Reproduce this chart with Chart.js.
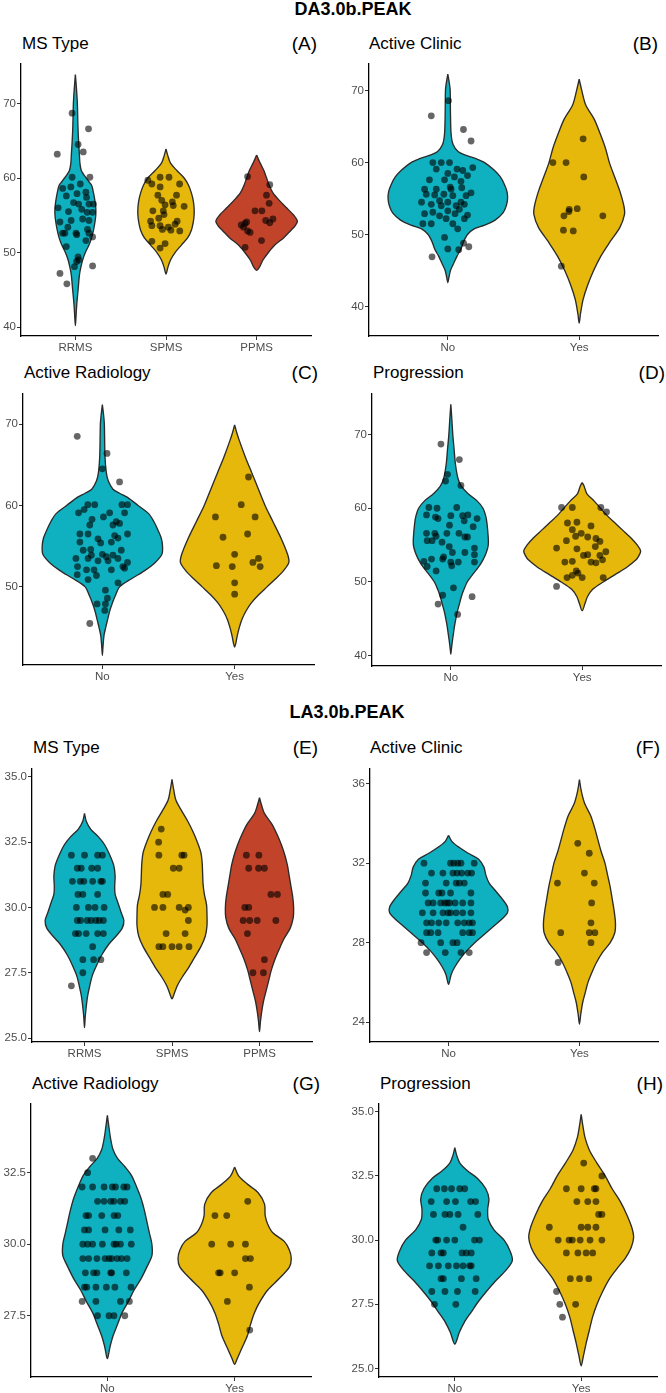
<!DOCTYPE html>
<html>
<head>
<meta charset="utf-8">
<script src="https://cdn.jsdelivr.net/npm/chart.js@4.4.0/dist/chart.umd.min.js"></script>
<style>
  body { margin:0; background:#fff; width:666px; height:1393px; position:relative; overflow:hidden;
         font-family:"Liberation Sans", Arial, sans-serif; color:#000; }
  .sec { position:absolute; font-weight:bold; font-size:18px; line-height:1; transform:translate(-50%,-50%); white-space:nowrap; }
  .ttl { position:absolute; font-size:17px; line-height:1; transform:translateY(-50%); white-space:nowrap; }
  .tag { position:absolute; font-size:19px; line-height:1; transform:translate(-100%,-50%); white-space:nowrap; }
  canvas { position:absolute; }
</style>
</head>
<body>
<script>
/* ---------- categories & ticks ---------- */
const catsMS = ["RRMS", "SPMS", "PPMS"];
const catsYN = ["No", "Yes"];
const ticksA = [40, 50, 60, 70];
const ticksB = [40, 50, 60, 70];
const ticksC = [50, 60, 70];
const ticksD = [40, 50, 60, 70];
const ticksE = [25, 27.5, 30, 32.5, 35];
const ticksF = [24, 28, 32, 36];
const ticksG = [27.5, 30, 32.5];
const ticksH = [25, 27.5, 30, 32.5, 35];

/* ---------- violin outlines: [value, half width] top -> bottom ---------- */
const vioA_RRMS = [[73.9,0],[72,0.012],[70,0.022],[67,0.028],[65,0.035],[63,0.045],[62,0.05],[61,0.065],[60.5,0.09],[60,0.12],[59.5,0.15],[59,0.18],[58,0.2],[57,0.215],[56,0.225],[55,0.225],[54,0.215],[53,0.2],[52,0.18],[51,0.15],[50,0.11],[49,0.08],[48,0.06],[47,0.045],[45,0.03],[43,0.015],[41,0.005],[40.2,0]];
const vioA_SPMS = [[63.9,0],[63,0.02],[62,0.05],[61,0.12],[60,0.2],[59,0.25],[58,0.28],[57,0.3],[56,0.31],[55,0.31],[54,0.3],[53,0.28],[52,0.24],[51,0.17],[50,0.1],[49,0.05],[48,0.02],[47.1,0]];
const vioA_PPMS = [[63.1,0],[62.5,0.02],[62,0.04],[61,0.08],[60,0.11],[59,0.14],[58,0.18],[57,0.25],[56,0.33],[55,0.41],[54.2,0.45],[53.5,0.42],[53,0.38],[52,0.3],[51,0.2],[50,0.13],[49,0.07],[48,0.03],[47.6,0]];

const vioB_No  = [[72.3,0],[71,0.012],[70,0.018],[67,0.02],[64,0.025],[62.5,0.04],[61.5,0.08],[61,0.14],[60.5,0.22],[60,0.28],[59,0.35],[58,0.4],[57,0.43],[56,0.45],[55,0.455],[54,0.445],[53,0.42],[52,0.36],[51.3,0.28],[50.8,0.2],[50,0.15],[49,0.12],[48,0.1],[47,0.07],[46,0.045],[45,0.02],[44,0.008],[43.3,0]];
const vioB_Yes = [[71.6,0],[70,0.02],[68,0.05],[66,0.115],[64,0.16],[62,0.2],[60,0.23],[58,0.27],[56,0.31],[54,0.34],[52.8,0.345],[51,0.31],[49,0.235],[47,0.165],[45,0.11],[43,0.065],[41,0.03],[39,0.01],[37.7,0]];

const vioC_No  = [[72.4,0],[71,0.01],[70,0.015],[66,0.02],[64,0.03],[63,0.045],[62,0.08],[61.5,0.13],[61,0.19],[60,0.27],[59,0.35],[58,0.39],[57,0.42],[56,0.445],[55,0.455],[54,0.45],[53,0.4],[52,0.32],[51,0.22],[50,0.13],[49,0.1],[48,0.075],[47,0.055],[46,0.04],[45,0.025],[44,0.012],[42.5,0.004],[41.6,0]];
const vioC_Yes = [[69.9,0],[69,0.015],[68,0.035],[66,0.08],[64,0.13],[62,0.18],[60,0.23],[58,0.29],[56,0.35],[54,0.4],[53,0.41],[52,0.37],[51,0.31],[50,0.245],[49,0.18],[48,0.125],[47,0.085],[46,0.055],[45,0.035],[44,0.02],[43,0.008],[42.6,0]];

const vioD_No  = [[74.1,0],[72,0.008],[70,0.015],[68,0.025],[66,0.035],[64,0.055],[63,0.08],[62,0.13],[61,0.2],[60,0.245],[59,0.265],[58,0.275],[56,0.285],[55,0.285],[54,0.27],[53,0.245],[52,0.21],[51,0.165],[50,0.125],[49,0.1],[48,0.08],[47,0.065],[46,0.05],[45,0.038],[44,0.028],[43,0.02],[42,0.012],[41,0.005],[40.2,0]];
const vioD_Yes = [[63.5,0],[63,0.015],[62,0.035],[61,0.09],[60,0.14],[59,0.19],[58,0.25],[57,0.31],[56,0.37],[55,0.42],[54.2,0.445],[53.5,0.43],[53,0.41],[52,0.34],[51,0.25],[50,0.16],[49,0.08],[48,0.04],[47,0.02],[46.1,0]];

const vioE_RRMS = [[33.6,0],[33.3,0.02],[33.0,0.07],[32.7,0.16],[32.4,0.23],[32.0,0.29],[31.6,0.335],[31.2,0.35],[30.8,0.345],[30.5,0.35],[30.2,0.38],[29.8,0.42],[29.5,0.45],[29.2,0.43],[28.9,0.36],[28.6,0.28],[28.2,0.2],[27.8,0.14],[27.4,0.09],[27.0,0.06],[26.6,0.035],[26.2,0.02],[25.8,0.008],[25.4,0]];
const vioE_SPMS = [[34.9,0],[34.5,0.02],[34.1,0.045],[33.7,0.11],[33.3,0.18],[32.9,0.24],[32.5,0.29],[32.1,0.33],[31.7,0.345],[31.3,0.35],[30.9,0.355],[30.5,0.37],[30.1,0.395],[29.7,0.4],[29.3,0.4],[28.9,0.38],[28.5,0.33],[28.1,0.26],[27.7,0.19],[27.3,0.11],[27.0,0.06],[26.7,0.025],[26.5,0]];
const vioE_PPMS = [[34.2,0],[33.9,0.025],[33.6,0.056],[33.2,0.14],[32.8,0.2],[32.4,0.25],[32.0,0.29],[31.6,0.32],[31.2,0.34],[30.8,0.36],[30.4,0.38],[30.0,0.39],[29.6,0.385],[29.2,0.35],[28.8,0.28],[28.4,0.225],[28.0,0.175],[27.6,0.135],[27.2,0.105],[26.8,0.075],[26.4,0.045],[26.0,0.025],[25.6,0.01],[25.25,0]];

const vioF_No  = [[33.4,0],[33.1,0.025],[32.8,0.08],[32.5,0.15],[32.2,0.23],[31.8,0.27],[31.4,0.285],[31.0,0.31],[30.6,0.36],[30.2,0.41],[29.8,0.45],[29.5,0.45],[29.2,0.41],[28.8,0.34],[28.4,0.27],[28.0,0.2],[27.6,0.14],[27.2,0.09],[26.8,0.05],[26.4,0.02],[25.9,0]];
const vioF_Yes = [[36.2,0],[35.6,0.015],[35.0,0.04],[34.4,0.085],[33.8,0.115],[33.2,0.14],[32.6,0.165],[32.0,0.195],[31.4,0.215],[30.8,0.235],[30.2,0.25],[29.6,0.265],[29.0,0.275],[28.5,0.27],[28.0,0.235],[27.5,0.175],[27.0,0.13],[26.5,0.095],[26.0,0.065],[25.5,0.045],[25.0,0.025],[24.4,0.01],[23.9,0]];

const vioG_No  = [[34.5,0],[34.1,0.012],[33.7,0.025],[33.3,0.045],[33.0,0.08],[32.7,0.14],[32.4,0.19],[32.0,0.23],[31.6,0.265],[31.2,0.29],[30.8,0.31],[30.4,0.33],[30.0,0.35],[29.6,0.35],[29.2,0.31],[28.8,0.265],[28.4,0.21],[28.0,0.165],[27.6,0.115],[27.2,0.08],[26.8,0.045],[26.4,0.02],[26.0,0]];
const vioG_Yes = [[32.7,0],[32.4,0.03],[32.1,0.1],[31.8,0.185],[31.4,0.235],[31.0,0.24],[30.7,0.26],[30.4,0.3],[30.1,0.39],[29.8,0.43],[29.5,0.445],[29.2,0.43],[28.8,0.35],[28.4,0.26],[28.0,0.2],[27.6,0.155],[27.2,0.125],[26.8,0.1],[26.4,0.06],[26.0,0.02],[25.8,0]];

const vioH_No  = [[33.6,0],[33.3,0.015],[33.0,0.04],[32.7,0.1],[32.4,0.18],[32.0,0.245],[31.6,0.27],[31.2,0.26],[30.8,0.265],[30.4,0.31],[30.0,0.39],[29.6,0.435],[29.2,0.455],[28.8,0.4],[28.4,0.32],[28.0,0.25],[27.6,0.185],[27.2,0.13],[26.8,0.075],[26.4,0.035],[25.95,0]];
const vioH_Yes = [[34.9,0],[34.4,0.015],[34.0,0.03],[33.5,0.065],[33.0,0.125],[32.5,0.19],[32.0,0.245],[31.5,0.31],[31.0,0.36],[30.5,0.4],[30.1,0.415],[29.7,0.395],[29.3,0.35],[28.9,0.285],[28.5,0.225],[28.0,0.17],[27.5,0.125],[27.0,0.09],[26.5,0.065],[26.0,0.04],[25.5,0.018],[25.1,0]];

/* ---------- jittered observations: [jitter, value] ---------- */
const ptsA_RRMS = [[-0.036,68.7],[0.145,66.6],[-0.2,63.2],[0.03,64.5],[0.087,63.5],[-0.036,60.1],[0.16,60.1],[0.054,59.2],[-0.14,58.6],[-0.05,58.8],[0.018,57.9],[-0.1,57.6],[0.116,58.1],[0.123,57.4],[-0.19,56.0],[-0.076,55.5],[-0.02,56.7],[0.036,56.5],[0.15,56.5],[0.2,56.5],[0.19,55.4],[0.13,55.4],[0.07,55.8],[-0.17,54.1],[-0.047,54.3],[0.08,54.5],[0.15,54.3],[-0.083,53.4],[0.134,53.1],[-0.14,52.6],[-0.116,52.6],[0.007,52.6],[0.015,52.4],[0.15,52.6],[0.19,52.1],[0.116,51.6],[-0.1,50.8],[0.03,49.4],[0.014,48.8],[-0.01,48.1],[0.036,49.0],[0.19,48.2],[-0.17,47.2],[-0.094,45.8]];
const ptsA_SPMS = [[-0.2,59.7],[-0.065,60.1],[0.033,60.1],[0.15,59.2],[-0.156,59.2],[-0.065,58.8],[-0.09,57.7],[-0.047,57.0],[0.116,57.7],[-0.01,56.4],[0.07,56.8],[0.08,56.3],[0.2,56.2],[-0.145,55.6],[-0.03,55.6],[-0.022,55.1],[-0.17,54.2],[-0.08,54.6],[0.123,54.2],[0.1,53.8],[-0.156,53.6],[-0.065,53.6],[-0.04,53.1],[0.054,53.0],[0.152,52.9],[0.025,53.4],[-0.156,51.5],[-0.01,51.2],[-0.065,50.6]];
const ptsA_PPMS = [[-0.1,60.2],[0.145,59.1],[0.109,57.7],[0.138,56.6],[-0.018,55.6],[0.058,55.6],[0.18,54.5],[0.1,54.3],[0.145,54.0],[-0.127,53.9],[-0.11,54.1],[-0.17,53.7],[-0.145,53.4],[-0.1,52.9],[-0.072,52.7],[0.054,51.6],[-0.127,50.7]];

const ptsB_No  = [[0.005,68.6],[-0.126,66.5],[0.119,64.6],[0.177,63.0],[-0.114,60.0],[-0.05,60.0],[0.013,60.0],[0.19,59.3],[-0.088,59.1],[0,58.5],[0.07,59.1],[0.114,58.9],[0.15,58.2],[-0.14,57.6],[-0.025,57.6],[0.05,58.0],[0.1,57.4],[-0.177,56.3],[-0.088,56.3],[0.018,56.6],[0.106,56.5],[0.177,55.8],[-0.164,55.6],[-0.1,55.5],[-0.03,55.6],[0.038,55.4],[0.139,55.4],[-0.2,54.5],[-0.126,54.2],[-0.05,54.0],[0,54.5],[0.063,54.0],[0.088,53.5],[0.126,54.2],[-0.177,52.9],[-0.114,53.1],[-0.063,52.6],[0,53.3],[0.055,52.9],[0.15,52.7],[0.126,52.2],[-0.19,51.5],[-0.126,51.5],[0.038,51.5],[0.075,50.8],[-0.025,49.6],[0,48.0],[0.083,47.9],[0.12,48.8],[0.16,48.3],[-0.12,46.9],[0.025,56.3],[-0.063,54.7],[-0.013,52.2],[0.1,54.5]];
const ptsB_Yes = [[-0.2,60.0],[-0.1,60.0],[0.03,63.3],[0.035,58.0],[-0.076,53.5],[-0.015,53.6],[-0.116,52.6],[0.18,52.6],[-0.12,50.6],[-0.045,50.5],[-0.078,53.2],[-0.136,45.6]];

const ptsC_No  = [[-0.19,68.5],[0.035,66.4],[0,64.5],[0.13,62.9],[-0.18,59.1],[-0.11,60.1],[-0.058,60.1],[-0.138,59.5],[-0.078,58.3],[0.008,58.6],[0.055,59.1],[0.148,60.1],[0.19,60.1],[0.168,59.1],[0.105,58.0],[0.08,57.6],[0.13,57.8],[-0.095,57.6],[-0.17,56.5],[-0.108,56.5],[-0.033,55.9],[-0.17,55.5],[-0.013,55.4],[0.068,55.5],[0.118,56.0],[0.19,56.5],[-0.145,54.5],[-0.088,54.6],[0,54.0],[0.03,53.7],[0.08,53.9],[0.143,54.5],[-0.2,53.5],[-0.108,53.5],[-0.033,53.2],[0.043,53.2],[0.118,53.5],[0.19,53.0],[0.155,52.5],[-0.188,52.5],[-0.12,52.1],[-0.063,52.1],[0.068,52.1],[0.168,52.3],[-0.19,51.5],[-0.045,51.4],[-0.108,50.9],[0.118,50.5],[0.023,49.6],[0.038,48.6],[-0.04,47.9],[0.023,47.9],[0.018,47.1],[-0.095,45.5],[0.093,56.3],[-0.083,53.9]];
const ptsC_Yes = [[0.105,63.5],[0.05,60.1],[-0.145,58.6],[0.155,58.6],[-0.088,56.1],[0.098,56.5],[0,54.0],[-0.138,52.6],[-0.018,52.5],[0.138,53.0],[0.18,53.5],[0.193,52.5],[0,50.5],[0,49.1]];

const ptsD_No  = [[-0.075,68.7],[0.065,66.6],[-0.025,64.6],[-0.04,63.7],[0.077,63.1],[-0.167,60.1],[-0.105,60.0],[0.045,60.1],[-0.185,59.1],[-0.117,58.8],[0,59.0],[0.09,59.0],[0.13,59.1],[0.2,58.6],[-0.097,58.6],[0.102,58.3],[-0.01,57.7],[0.17,57.5],[-0.185,56.6],[-0.122,56.6],[-0.112,56.2],[-0.03,56.6],[0.062,56.6],[0.107,56.1],[0.127,56.1],[-0.18,55.6],[-0.142,55.6],[-0.067,55.4],[-0.012,54.8],[0.18,54.6],[0.107,54.0],[0.012,54.0],[0.18,53.7],[-0.055,53.4],[-0.205,52.8],[-0.147,53.1],[-0.062,53.1],[0,52.7],[0.007,52.2],[0.057,52.7],[0.18,52.7],[-0.18,52.1],[-0.112,51.5],[0.02,49.2],[-0.062,48.2],[0.162,48.0],[-0.097,47.0],[0.052,45.6]];
const ptsD_Yes = [[-0.157,60.1],[-0.075,60.1],[0.142,60.1],[0.185,59.5],[-0.112,58.0],[-0.04,58.1],[-0.075,57.1],[0.067,57.6],[-0.007,56.6],[-0.05,56.2],[-0.12,55.6],[0.042,56.1],[0.105,55.9],[0.135,55.5],[-0.195,54.6],[-0.04,54.5],[0.1,54.8],[0.042,53.7],[0.01,53.6],[0.135,53.6],[0.18,54.1],[0.155,53.0],[-0.132,52.7],[-0.075,52.8],[0.067,52.7],[0.105,52.6],[-0.045,51.5],[-0.032,51.2],[-0.115,50.6],[-0.075,50.9],[0,50.6],[0.16,50.6],[-0.195,49.4]];

const ptsE_RRMS = [[-0.15,32],[0,32],[0.15,32],[0.205,32],[-0.082,31.5],[-0.037,31.5],[0.082,31.5],[0.15,31.5],[-0.138,31],[-0.049,31],[-0.007,31],[0.093,31],[0.187,31],[0.205,31],[-0.075,30.5],[-0.019,30.5],[0.15,30.5],[-0.093,30],[0.045,30],[0.12,30],[0.224,30],[-0.082,29.5],[-0.045,29.5],[0.03,29.5],[0.075,29.5],[0.13,29.5],[0.168,29.5],[0.216,29.5],[-0.104,29],[-0.067,29],[0.019,29],[0.15,29],[0.216,29],[0.093,28.5],[-0.019,28],[0.104,28],[0.187,28],[-0.019,27.5],[-0.15,27]];
const ptsE_SPMS = [[-0.123,33],[-0.153,32.5],[-0.15,32],[0.112,32],[0.138,32],[0.015,31.5],[0.082,31.5],[-0.104,30.5],[-0.049,30.5],[-0.2,30],[-0.104,30],[0.082,30],[0.187,30],[0.15,29.9],[0.187,29.5],[-0.067,29],[0.15,29],[-0.15,28.5],[-0.104,28.5],[0,28.5],[0.082,28.5],[0.194,28.5]];
const ptsE_PPMS = [[-0.15,32],[-0.007,32],[-0.123,31.5],[-0.011,31.5],[0.056,31.5],[0.13,30.5],[0.205,30.5],[-0.168,30],[-0.123,30],[-0.187,29.5],[-0.112,29.5],[-0.026,29.5],[0.187,29.5],[-0.138,29],[0.056,28],[-0.075,27.5],[0.045,27.5]];

const ptsF_No  = [[-0.188,32],[0.015,32],[0.04,32],[0.07,32],[0.095,32],[0.196,32],[-0.13,31.5],[-0.043,31.5],[0.033,31.5],[0.065,31.5],[0.1,31.5],[0.146,31.5],[0.176,31.5],[-0.176,31],[-0.018,31],[0.058,31],[0.083,31],[0.12,31],[-0.176,30.5],[-0.075,30.5],[-0.05,30.5],[0.015,30.5],[0.171,30.5],[-0.156,30],[-0.118,30],[-0.06,30],[-0.03,30],[-0.01,30],[0.008,30],[0.05,30],[0.108,30],[0.171,30],[-0.2,29.5],[-0.118,29.5],[-0.043,29.5],[-0.005,29.5],[0.015,29.5],[0.058,29.5],[0.108,29.5],[0.171,29.5],[-0.168,29],[-0.13,29],[-0.075,29],[-0.018,29],[0.07,29],[0.12,29],[0.158,29],[0.183,29],[-0.168,28.5],[-0.136,28.5],[-0.08,28.5],[0.108,28.5],[0.158,28.5],[0.183,28.5],[-0.21,28],[-0.06,28],[0.033,28],[0.065,28],[-0.168,27.5],[-0.025,27.5],[0.095,27.5],[0.158,27.5]];
const ptsF_Yes = [[-0.013,33],[0.075,32.5],[0.038,31.5],[-0.168,31],[0.113,31],[0.093,30],[0.088,29],[-0.143,28.5],[0.075,28.5],[0.118,28.5],[0.088,28],[-0.163,27]];

const ptsG_No  = [[-0.116,33],[-0.155,32.5],[-0.198,32],[-0.116,32],[-0.026,32],[0.039,32],[0.064,32],[0.129,32],[0.155,32],[-0.077,31.5],[-0.026,31.5],[0.026,31.5],[0.052,31.5],[0.103,31.5],[0.137,31.5],[-0.168,31],[-0.147,31],[-0.044,31],[0.052,31],[0.082,31],[-0.18,30.5],[-0.147,30.5],[-0.018,30.5],[0.09,30.5],[0.18,30.5],[-0.193,30],[-0.155,30],[-0.116,30],[-0.039,30],[0.052,30],[0.07,30],[0.103,30],[0.188,30],[-0.193,29.5],[-0.147,29.5],[-0.082,29.5],[-0.018,29.5],[0.013,29.5],[0.034,29.5],[0.077,29.5],[0.111,29.5],[0.155,29.5],[-0.173,29],[-0.108,29],[-0.082,29],[0.026,29],[0.034,29],[0.149,29],[-0.18,28.5],[-0.162,28.5],[-0.09,28.5],[-0.008,28.5],[0.059,28.5],[0.186,28.5],[-0.198,28],[-0.09,28],[0.103,28],[0.173,28],[-0.077,27.5],[0.013,27.5],[0.052,27.5],[0.137,27.5]];
const ptsG_Yes = [[0.103,31.5],[-0.155,31],[-0.062,31],[-0.18,30],[-0.031,30],[0.085,30],[0.085,29.5],[0.124,29.5],[-0.126,29],[-0.113,29],[0,29],[0.116,28.5],[-0.057,28],[0.119,27]];

const ptsH_No  = [[-0.143,32],[-0.083,32],[-0.026,32],[0.039,32],[0.078,32],[-0.187,31.5],[-0.065,31.5],[0.005,31.5],[0.125,31.5],[0.164,31.5],[-0.169,31],[-0.078,31],[-0.039,31],[0.026,31],[0.182,31],[0.065,30.5],[-0.151,30],[-0.135,30],[-0.065,30],[0,30],[0.156,30],[0.195,30],[-0.182,29.5],[-0.109,29.5],[-0.091,29.5],[0.057,29.5],[0.091,29.5],[0.13,29.5],[-0.2,29],[-0.13,29],[-0.052,29],[0.013,29],[0.065,29],[0.117,29],[0.13,29],[-0.109,28.5],[-0.091,28.5],[0.052,28.5],[0.169,28.5],[-0.182,28],[-0.078,28],[0.021,28],[0.161,28],[-0.161,27.5],[0.008,27.5]];
const ptsH_Yes = [[0.02,33],[0.164,32.5],[-0.117,32],[0,32],[0.104,32],[0.117,32],[-0.034,31.5],[0.052,31.5],[0.117,31.5],[0.164,31],[0.138,31],[-0.252,30.5],[0,30.5],[0.052,30.5],[0.117,30.5],[-0.182,30],[-0.096,30],[-0.07,30],[-0.008,30],[0.07,30],[0.164,30],[-0.117,29.5],[-0.026,29.5],[0.039,29.5],[0.091,29.5],[-0.086,28.5],[-0.013,28.5],[0.06,28.5],[-0.195,28],[-0.169,27.5],[-0.044,27.5],[-0.148,27]];

/* ---------- look ---------- */
const TEAL = "#0FB1C0", GOLD = "#E5B80B", BRICK = "#C0432A";
const TICK_FONT = { family: "'Liberation Sans', Arial, sans-serif", size: 11.5 };

function addText(cls, txt, x, y) {
  const d = document.createElement("div");
  d.className = cls; d.textContent = txt;
  d.style.left = x + "px"; d.style.top = y + "px";
  document.body.appendChild(d);
}

// closed outline: right side top->bottom, then left side back up
function violinPath(c, prof) {
  const right = prof.map(([v, w]) => ({ x: c + w, y: v }));
  const left = prof.slice(1, -1).reverse().map(([v, w]) => ({ x: c - w, y: v }));
  return right.concat(left, [right[0]]);
}

function makePanel(p) {
  addText("ttl", p.title, p.tx, p.ty);
  addText("tag", p.tag, p.gx, p.ty);

  const AX_W = 30, AX_H = 22;
  const cv = document.createElement("canvas");
  cv.width = p.R - p.L + AX_W; cv.height = p.B - p.T + AX_H;
  cv.style.left = (p.L - AX_W) + "px"; cv.style.top = p.T + "px";
  document.body.appendChild(cv);

  const datasets = [];
  p.violins.forEach((prof, i) => {
    datasets.push({
      data: violinPath(i, prof), order: 2,
      borderColor: "#2b2b2b", borderWidth: 1.35, backgroundColor: p.colors[i],
      fill: "shape", tension: 0.3, pointRadius: 0
    });
  });
  p.points.forEach((pts, i) => {
    datasets.push({
      data: pts.map(([j, v]) => ({ x: i + j, y: v })), order: 1,
      showLine: false, pointRadius: 3.4, pointBorderWidth: 0,
      pointBackgroundColor: "rgba(0,0,0,0.6)"
    });
  });

  new Chart(cv, {
    type: "line",
    data: { datasets },
    options: {
      responsive: false, animation: false, events: [],
      layout: { padding: 0 },
      plugins: { legend: { display: false }, tooltip: { enabled: false } },
      scales: {
        x: {
          type: "linear", min: -0.6, max: p.cats.length - 0.4,
          afterBuildTicks: s => { s.ticks = p.cats.map((c, i) => ({ value: i })); },
          afterFit: s => { s.height = AX_H; s.paddingLeft = 0; s.paddingRight = 0; },
          ticks: { callback: v => p.cats[v], color: "#4D4D4D", font: TICK_FONT, padding: 1, maxRotation: 0, autoSkip: false },
          grid: { display: true, drawOnChartArea: false, drawTicks: true, tickLength: 4, color: "#333333" },
          border: { display: true, color: "#000000", width: 1.3 }
        },
        y: {
          type: "linear", min: p.yMin, max: p.yMax,
          afterBuildTicks: s => { s.ticks = p.yTicks.map(v => ({ value: v })); },
          afterFit: s => { s.width = AX_W; s.paddingTop = 0; s.paddingBottom = 0; },
          ticks: { callback: v => v.toFixed(p.dec), color: "#4D4D4D", font: TICK_FONT, padding: 1 },
          grid: { display: true, drawOnChartArea: false, drawTicks: true, tickLength: 4, color: "#333333" },
          border: { display: true, color: "#000000", width: 1.3 }
        }
      }
    }
  });
}

addText("sec", "DA3.0b.PEAK", 353, 9);
addText("sec", "LA3.0b.PEAK", 347, 712);

const panels = [
  { title: "MS Type", tag: "(A)", tx: 22, gx: 317, ty: 43, L: 21, T: 60, B: 336, R: 315, cats: catsMS, yMin: 38.8, yMax: 75.3, yTicks: ticksA, dec: 0,
    violins: [vioA_RRMS, vioA_SPMS, vioA_PPMS], points: [ptsA_RRMS, ptsA_SPMS, ptsA_PPMS], colors: [TEAL, GOLD, BRICK] },
  { title: "Active Clinic", tag: "(B)", tx: 369, gx: 658, ty: 43, L: 369, T: 60, B: 336, R: 662, cats: catsYN, yMin: 35.9, yMax: 73.7, yTicks: ticksB, dec: 0,
    violins: [vioB_No, vioB_Yes], points: [ptsB_No, ptsB_Yes], colors: [TEAL, GOLD] },
  { title: "Active Radiology", tag: "(C)", tx: 24, gx: 318, ty: 372, L: 23, T: 390, B: 665, R: 318, cats: catsYN, yMin: 40.4, yMax: 73.7, yTicks: ticksC, dec: 0,
    violins: [vioC_No, vioC_Yes], points: [ptsC_No, ptsC_Yes], colors: [TEAL, GOLD] },
  { title: "Progression", tag: "(D)", tx: 373, gx: 665, ty: 372, L: 372, T: 390, B: 666, R: 665, cats: catsYN, yMin: 38.6, yMax: 75.5, yTicks: ticksD, dec: 0,
    violins: [vioD_No, vioD_Yes], points: [ptsD_No, ptsD_Yes], colors: [TEAL, GOLD] },
  { title: "MS Type", tag: "(E)", tx: 33, gx: 318, ty: 747, L: 32, T: 765, B: 1042, R: 316, cats: catsMS, yMin: 24.85, yMax: 35.3, yTicks: ticksE, dec: 1,
    violins: [vioE_RRMS, vioE_SPMS, vioE_PPMS], points: [ptsE_RRMS, ptsE_SPMS, ptsE_PPMS], colors: [TEAL, GOLD, BRICK] },
  { title: "Active Clinic", tag: "(F)", tx: 370, gx: 660, ty: 747, L: 370, T: 765, B: 1042, R: 662, cats: catsYN, yMin: 23.0, yMax: 36.74, yTicks: ticksF, dec: 0,
    violins: [vioF_No, vioF_Yes], points: [ptsF_No, ptsF_Yes], colors: [TEAL, GOLD] },
  { title: "Active Radiology", tag: "(G)", tx: 32, gx: 320, ty: 1083, L: 31, T: 1100, B: 1377, R: 315, cats: catsYN, yMin: 25.36, yMax: 34.9, yTicks: ticksG, dec: 1,
    violins: [vioG_No, vioG_Yes], points: [ptsG_No, ptsG_Yes], colors: [TEAL, GOLD] },
  { title: "Progression", tag: "(H)", tx: 380, gx: 663, ty: 1083, L: 379, T: 1100, B: 1377, R: 661, cats: catsYN, yMin: 24.67, yMax: 35.3, yTicks: ticksH, dec: 1,
    violins: [vioH_No, vioH_Yes], points: [ptsH_No, ptsH_Yes], colors: [TEAL, GOLD] }
];

panels.forEach(makePanel);
</script>
</body>
</html>
